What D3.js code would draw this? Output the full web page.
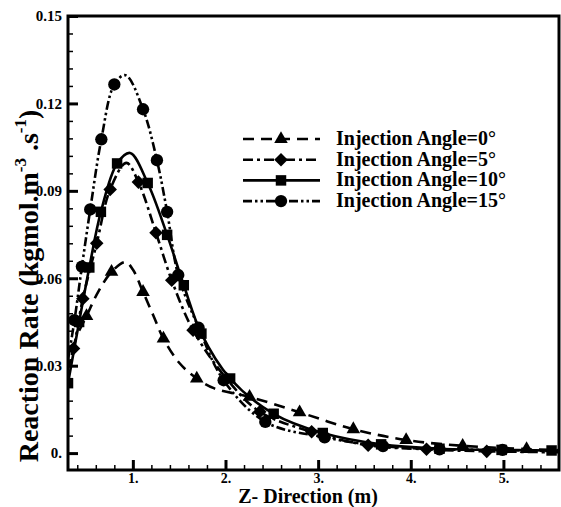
<!DOCTYPE html>
<html>
<head>
<meta charset="utf-8">
<script src="https://cdnjs.cloudflare.com/ajax/libs/d3/7.8.5/d3.min.js"></script>
<style>
  body { margin: 0; background: #fff; }
  text { font-family: "Liberation Serif", "Times New Roman", serif; font-weight: bold; fill: #000; }
</style>
</head>
<body>
<svg id="chart" width="561" height="507"></svg>
<script>
  // values: z position (m) and reaction rate
  var seriesNames = ["Injection Angle=0°", "Injection Angle=5°", "Injection Angle=10°", "Injection Angle=15°"];

  var z0 = [0.42, 0.50, 0.62, 0.77, 0.92, 1.00, 1.11, 1.22, 1.33, 1.50, 1.69, 1.88, 2.26, 2.80, 3.38, 3.95, 4.56, 5.25, 5.60];
  var rate0 = [0.042, 0.047, 0.055, 0.0622, 0.0656, 0.063, 0.0553, 0.0473, 0.0393, 0.031, 0.0256, 0.0222, 0.0193, 0.0140, 0.0082, 0.0045, 0.0025, 0.0014, 0.0010];
  var marks0 = [1, 3, 6, 8, 10, 12, 13, 14, 15, 16, 17];

  var z5 = [0.30, 0.36, 0.46, 0.61, 0.755, 0.93, 1.06, 1.25, 1.42, 1.65, 2.01, 2.37, 2.93, 3.54, 4.17, 4.82, 5.60];
  var rate5 = [0.029, 0.0359, 0.053, 0.072, 0.0905, 0.0996, 0.093, 0.0756, 0.0593, 0.0422, 0.0256, 0.0142, 0.0073, 0.0027, 0.0013, 0.0006, 0.0003];
  var marks5 = [1, 2, 3, 4, 6, 7, 8, 9, 10, 11, 12, 13, 14, 15];

  var z10 = [0.30, 0.42, 0.53, 0.655, 0.83, 0.97, 1.16, 1.37, 1.55, 1.74, 2.05, 2.52, 3.05, 3.68, 4.31, 4.98, 5.52, 5.60];
  var rate10 = [0.024, 0.045, 0.0637, 0.0828, 0.0994, 0.103, 0.0927, 0.0749, 0.0576, 0.041, 0.0256, 0.0135, 0.0069, 0.0030, 0.0015, 0.0011, 0.0009, 0.0009];
  var marks10 = [0, 1, 2, 3, 4, 6, 7, 8, 9, 10, 11, 12, 13, 14, 15, 16];

  var z15 = [0.30, 0.37, 0.45, 0.54, 0.66, 0.80, 0.92, 1.11, 1.26, 1.37, 1.49, 1.71, 1.98, 2.43, 3.07, 3.70, 4.31, 4.99, 5.60];
  var rate15 = [0.032, 0.0456, 0.064, 0.0836, 0.1077, 0.1265, 0.1297, 0.118, 0.1005, 0.0828, 0.0611, 0.043, 0.025, 0.0107, 0.0054, 0.0024, 0.0013, 0.0011, 0.0006];
  var marks15 = [1, 2, 3, 4, 5, 7, 8, 9, 10, 11, 12, 13, 14, 15, 16, 17];

  var xTicks = [1, 2, 3, 4, 5];
  var xTickLabels = ["1.", "2.", "3.", "4.", "5."];
  var yTicks = [0, 0.03, 0.06, 0.09, 0.12, 0.15];
  var yTickLabels = ["0.", "0.03", "0.06", "0.09", "0.12", "0.15"];

  var svg = d3.select("#chart");

  var x = d3.scaleLinear().domain([0.3, 5.6]).range([68, 559]);
  var y = d3.scaleLinear().domain([-0.0058, 0.15]).range([470, 16]);

  var series = [
    { name: seriesNames[0], z: z0, rate: rate0, marks: marks0, dash: "11,7", symbol: "triangle" },
    { name: seriesNames[1], z: z5, rate: rate5, marks: marks5, dash: "10,4,3,4", symbol: "diamond" },
    { name: seriesNames[2], z: z10, rate: rate10, marks: marks10, dash: null, symbol: "square" },
    { name: seriesNames[3], z: z15, rate: rate15, marks: marks15, dash: "9,3,2.5,3,2.5,3", symbol: "circle" }
  ];

  function marker_path(kind) {
    if (kind === "triangle") return d3.symbol().type(d3.symbolTriangle).size(80)();
    if (kind === "square") return d3.symbol().type(d3.symbolSquare).size(110)();
    if (kind === "circle") return d3.symbol().type(d3.symbolCircle).size(120)();
    return d3.symbol().type(d3.symbolSquare).size(92)();
  }

  svg.append("clipPath").attr("id", "plotclip")
    .append("rect").attr("x", 68).attr("y", 16).attr("width", 491).attr("height", 454);

  // minor ticks
  var xMinor = d3.range(0.4, 5.6, 0.2).filter(function(d) { return Math.abs(d - Math.round(d)) > 0.01; });
  var yMinor = d3.range(0.006, 0.15, 0.006).filter(function(d) { return Math.abs(d / 0.03 - Math.round(d / 0.03)) > 0.01; });

  svg.append("g").attr("transform", "translate(0,470)")
    .call(d3.axisBottom(x).tickValues(xMinor).tickSize(-5).tickFormat(""))
    .call(function(g) { g.select(".domain").remove(); g.selectAll("line").attr("stroke-width", 1.5); });

  svg.append("g").attr("transform", "translate(68,0)")
    .call(d3.axisLeft(y).tickValues(yMinor).tickSize(-5).tickFormat(""))
    .call(function(g) { g.select(".domain").remove(); g.selectAll("line").attr("stroke-width", 1.5); });

  // major ticks
  svg.append("g").attr("transform", "translate(0,470)")
    .call(d3.axisBottom(x).tickValues(xTicks).tickSize(-10).tickPadding(3)
      .tickFormat(function(d, i) { return xTickLabels[i]; }))
    .call(function(g) {
      g.select(".domain").remove();
      g.selectAll("line").attr("stroke-width", 3);
      g.selectAll("text").attr("font-size", 14).attr("font-family", null).attr("dy", "0.72em");
    });

  svg.append("g").attr("transform", "translate(68,0)")
    .call(d3.axisLeft(y).tickValues(yTicks).tickSize(-10).tickPadding(6)
      .tickFormat(function(d, i) { return yTickLabels[i]; }))
    .call(function(g) {
      g.select(".domain").remove();
      g.selectAll("line").attr("stroke-width", 3);
      g.selectAll("text").attr("font-size", 15).attr("font-family", null);
    });

  // curves
  var plot = svg.append("g").attr("clip-path", "url(#plotclip)");

  series.forEach(function(s) {
    var pts = s.z.map(function(d, i) { return [d, s.rate[i]]; });
    var line = d3.line()
      .x(function(d) { return x(d[0]); })
      .y(function(d) { return y(d[1]); })
      .curve(d3.curveCatmullRom.alpha(0.5));

    plot.append("path")
      .attr("d", line(pts))
      .attr("fill", "none")
      .attr("stroke", "#000")
      .attr("stroke-width", 2.6)
      .attr("stroke-dasharray", s.dash);

    plot.selectAll(null)
      .data(s.marks.map(function(i) { return pts[i]; }))
      .enter().append("path")
      .attr("d", marker_path(s.symbol))
      .attr("transform", function(d) {
        var r = s.symbol === "diamond" ? " rotate(45)" : "";
        return "translate(" + x(d[0]) + "," + y(d[1]) + ")" + r;
      })
      .attr("fill", "#000");
  });

  // frame
  svg.append("rect")
    .attr("x", 68).attr("y", 16).attr("width", 491).attr("height", 454)
    .attr("fill", "none").attr("stroke", "#000").attr("stroke-width", 3);

  // legend
  var legend = svg.append("g");
  series.forEach(function(s, i) {
    var ly = 139 + i * 20.7;
    legend.append("line")
      .attr("x1", 243).attr("x2", 320).attr("y1", ly).attr("y2", ly)
      .attr("stroke", "#000").attr("stroke-width", 2.6)
      .attr("stroke-dasharray", s.dash);
    legend.append("path")
      .attr("d", marker_path(s.symbol))
      .attr("transform", "translate(281," + ly + ")" + (s.symbol === "diamond" ? " rotate(45)" : ""))
      .attr("fill", "#000");
    legend.append("text")
      .attr("x", 336).attr("y", ly + 6)
      .attr("font-size", 20)
      .text(s.name);
  });

  // axis titles
  svg.append("text")
    .attr("x", 308).attr("y", 503)
    .attr("text-anchor", "middle")
    .attr("font-size", 20)
    .text("Z- Direction (m)");

  var yTitle = svg.append("text")
    .attr("transform", "translate(38,286) rotate(-90)")
    .attr("text-anchor", "middle")
    .attr("font-size", 28);
  yTitle.append("tspan").text("Reaction Rate (kgmol.m");
  yTitle.append("tspan").attr("dy", -12).attr("font-size", 17).text("-3");
  yTitle.append("tspan").attr("dy", 12).text(" .s");
  yTitle.append("tspan").attr("dy", -12).attr("font-size", 17).text("-1");
  yTitle.append("tspan").attr("dy", 12).text(")");
</script>
</body>
</html>
